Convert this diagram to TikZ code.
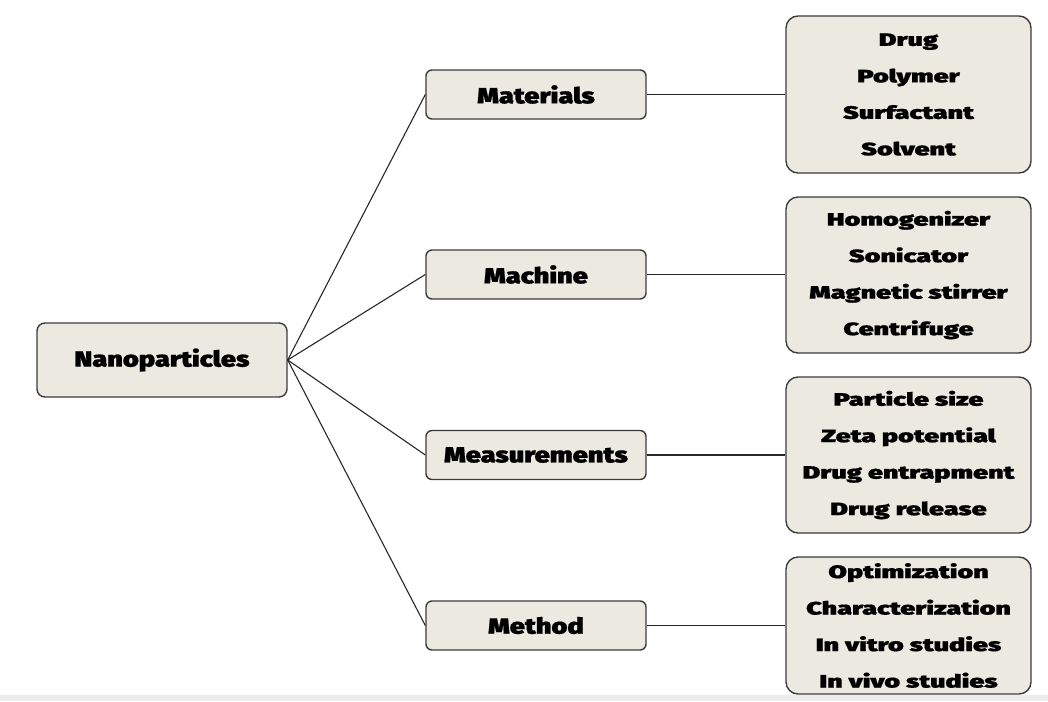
\documentclass[tikz,border=0pt]{standalone}
\usepackage{fontspec}
\newfontfamily\blkmid{Fira Sans Black}[FakeStretch=1.24,FakeBold=0.8]
\newfontfamily\blklist{Fira Sans Black}[FakeStretch=1.5,FakeBold=0.8]
\definecolor{boxfill}{RGB}{236,234,224}
\definecolor{boxline}{RGB}{60,60,60}
\definecolor{linecol}{RGB}{40,40,40}
\definecolor{bandgray}{RGB}{236,236,236}
\begin{document}
\begin{tikzpicture}[x=1pt,y=-1pt,
  box/.style={draw=boxline, fill=boxfill, line width=1.4pt, rounded corners=6pt, inner sep=0pt, align=center},
  midbox/.style={box, minimum width=220pt, minimum height=49pt, font=\blkmid\fontsize{22}{24}\selectfont},
  listbox/.style={box, minimum width=245pt, rounded corners=12pt, font=\blklist\fontsize{18}{36.5}\selectfont},
  link/.style={draw=linecol, line width=1.1pt}]
\useasboundingbox (0,0) rectangle (1048,701);
\fill[white] (0,0) rectangle (1048,701);
\fill[bandgray] (0,695) rectangle (1048,701);
\node[box, minimum width=250pt, minimum height=74pt, rounded corners=8pt, font=\blkmid\fontsize{22}{24}\selectfont] (np) at (162,360) {Nanoparticles};
\node[midbox] (mat) at (536,94.5) {Materials};
\node[midbox] (mac) at (536,274.5) {Machine};
\node[midbox] (mea) at (536,455) {Measurements};
\node[midbox] (met) at (536,625.5) {Method};
\node[listbox, minimum height=157pt] (l1) at (908.5,94.5) {Drug\\Polymer\\Surfactant\\Solvent};
\node[listbox, minimum height=156pt] (l2) at (908.5,275) {Homogenizer\\Sonicator\\Magnetic stirrer\\Centrifuge};
\node[listbox, minimum height=156pt] (l3) at (908.5,455) {Particle size\\Zeta potential\\Drug entrapment\\Drug release};
\node[listbox, minimum height=137pt] (l4) at (908.5,625.5) {Optimization\\Characterization\\In vitro studies\\In vivo studies};
\foreach \t in {mat,mac,mea,met} \draw[link] (np.east) -- (\t.west);
\draw[link] (mat.east) -- (l1.west |- mat.east);
\draw[link] (mac.east) -- (l2.west |- mac.east);
\draw[link] (mea.east) -- (l3.west |- mea.east);
\draw[link] (met.east) -- (l4.west |- met.east);
\end{tikzpicture}
\end{document}
